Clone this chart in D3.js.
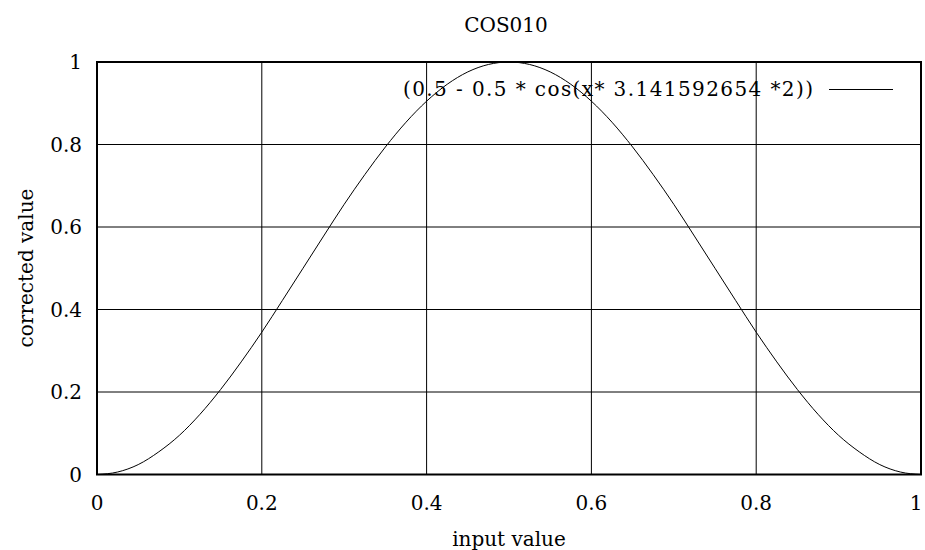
<!DOCTYPE html>
<html>
<head>
<meta charset="utf-8">
<script src="https://cdn.jsdelivr.net/npm/d3@7"></script>
<style>
  body { margin: 0; background: #fff; }
</style>
</head>
<body>
<svg id="svg" width="925" height="550"></svg>
<script>
"use strict";
// values
const inputValues = [0, 0.025, 0.05, 0.075, 0.1, 0.125, 0.15, 0.175, 0.2, 0.225, 0.25,
  0.275, 0.3, 0.325, 0.35, 0.375, 0.4, 0.425, 0.45, 0.475, 0.5,
  0.525, 0.55, 0.575, 0.6, 0.625, 0.65, 0.675, 0.7, 0.725, 0.75,
  0.775, 0.8, 0.825, 0.85, 0.875, 0.9, 0.925, 0.95, 0.975, 1];
const correctedValues = [0, 0.006, 0.024, 0.055, 0.095, 0.146, 0.206, 0.273, 0.345, 0.422, 0.5,
  0.578, 0.655, 0.727, 0.794, 0.854, 0.905, 0.946, 0.976, 0.994, 1,
  0.994, 0.976, 0.946, 0.905, 0.854, 0.794, 0.727, 0.655, 0.578, 0.5,
  0.422, 0.345, 0.273, 0.206, 0.146, 0.095, 0.055, 0.024, 0.006, 0];
const xTicks = [0, 0.2, 0.4, 0.6, 0.8, 1];
const yTicks = [0, 0.2, 0.4, 0.6, 0.8, 1];
const title = "COS010";
const seriesName = "(0.5 - 0.5 * cos(x* 3.141592654 *2))";
const xLabel = "input value";
const yLabel = "corrected value";

function main() {
  let svg = d3.select("#svg");
  let left = 97, right = 921, top = 62, bottom = 474.5;
  let x = d3.scaleLinear().domain([0, 1]).range([left, right]);
  let y = d3.scaleLinear().domain([0, 1]).range([bottom, top]);
  let fs = 20;
  let font = "DejaVu Serif";

  // grid
  svg.append("g")
    .selectAll("line")
    .data(xTicks.slice(1, -1))
    .enter()
    .append("line")
    .attr("x1", (d) => x(d)).attr("x2", (d) => x(d))
    .attr("y1", top).attr("y2", bottom)
    .attr("stroke", "#000").attr("stroke-width", 1);
  svg.append("g")
    .selectAll("line")
    .data(yTicks.slice(1, -1))
    .enter()
    .append("line")
    .attr("x1", left).attr("x2", right)
    .attr("y1", (d) => y(d)).attr("y2", (d) => y(d))
    .attr("stroke", "#000").attr("stroke-width", 1);

  // tick labels
  svg.append("g")
    .selectAll("text")
    .data(xTicks)
    .enter()
    .append("text")
    .attr("x", (d) => Math.min(x(d), 916))
    .attr("y", 510)
    .attr("text-anchor", "middle")
    .attr("font-family", font)
    .attr("font-size", fs)
    .text((d) => d3.format("")(d));
  svg.append("g")
    .selectAll("text")
    .data(yTicks)
    .enter()
    .append("text")
    .attr("x", 82)
    .attr("y", (d) => y(d) + 7)
    .attr("text-anchor", "end")
    .attr("font-family", font)
    .attr("font-size", fs)
    .text((d) => d3.format("")(d));

  // curve
  let pts = inputValues.map((v, i) => [v, correctedValues[i]]);
  svg.append("path")
    .datum(pts)
    .attr("fill", "none")
    .attr("stroke", "#000")
    .attr("stroke-width", 1)
    .attr("d", d3.line().x((d) => x(d[0])).y((d) => y(d[1])).curve(d3.curveMonotoneX));

  // frame
  svg.append("rect")
    .attr("x", left).attr("y", top)
    .attr("width", right - left).attr("height", bottom - top)
    .attr("fill", "none").attr("stroke", "#000").attr("stroke-width", 2);

  // legend
  svg.append("text")
    .attr("x", 813).attr("y", 96)
    .attr("text-anchor", "end")
    .attr("font-family", font)
    .attr("font-size", fs)
    .attr("textLength", 410)
    .text(seriesName);
  svg.append("line")
    .attr("x1", 829).attr("x2", 893)
    .attr("y1", 89.5).attr("y2", 89.5)
    .attr("stroke", "#000").attr("stroke-width", 1);

  // titles
  svg.append("text")
    .attr("x", 506).attr("y", 32)
    .attr("text-anchor", "middle")
    .attr("font-family", font)
    .attr("font-size", fs)
    .text(title);
  svg.append("text")
    .attr("x", 509).attr("y", 546)
    .attr("text-anchor", "middle")
    .attr("font-family", font)
    .attr("font-size", fs)
    .text(xLabel);
  svg.append("text")
    .attr("transform", "translate(33,268) rotate(-90)")
    .attr("text-anchor", "middle")
    .attr("font-family", font)
    .attr("font-size", fs)
    .text(yLabel);
}
main();
</script>
</body>
</html>
